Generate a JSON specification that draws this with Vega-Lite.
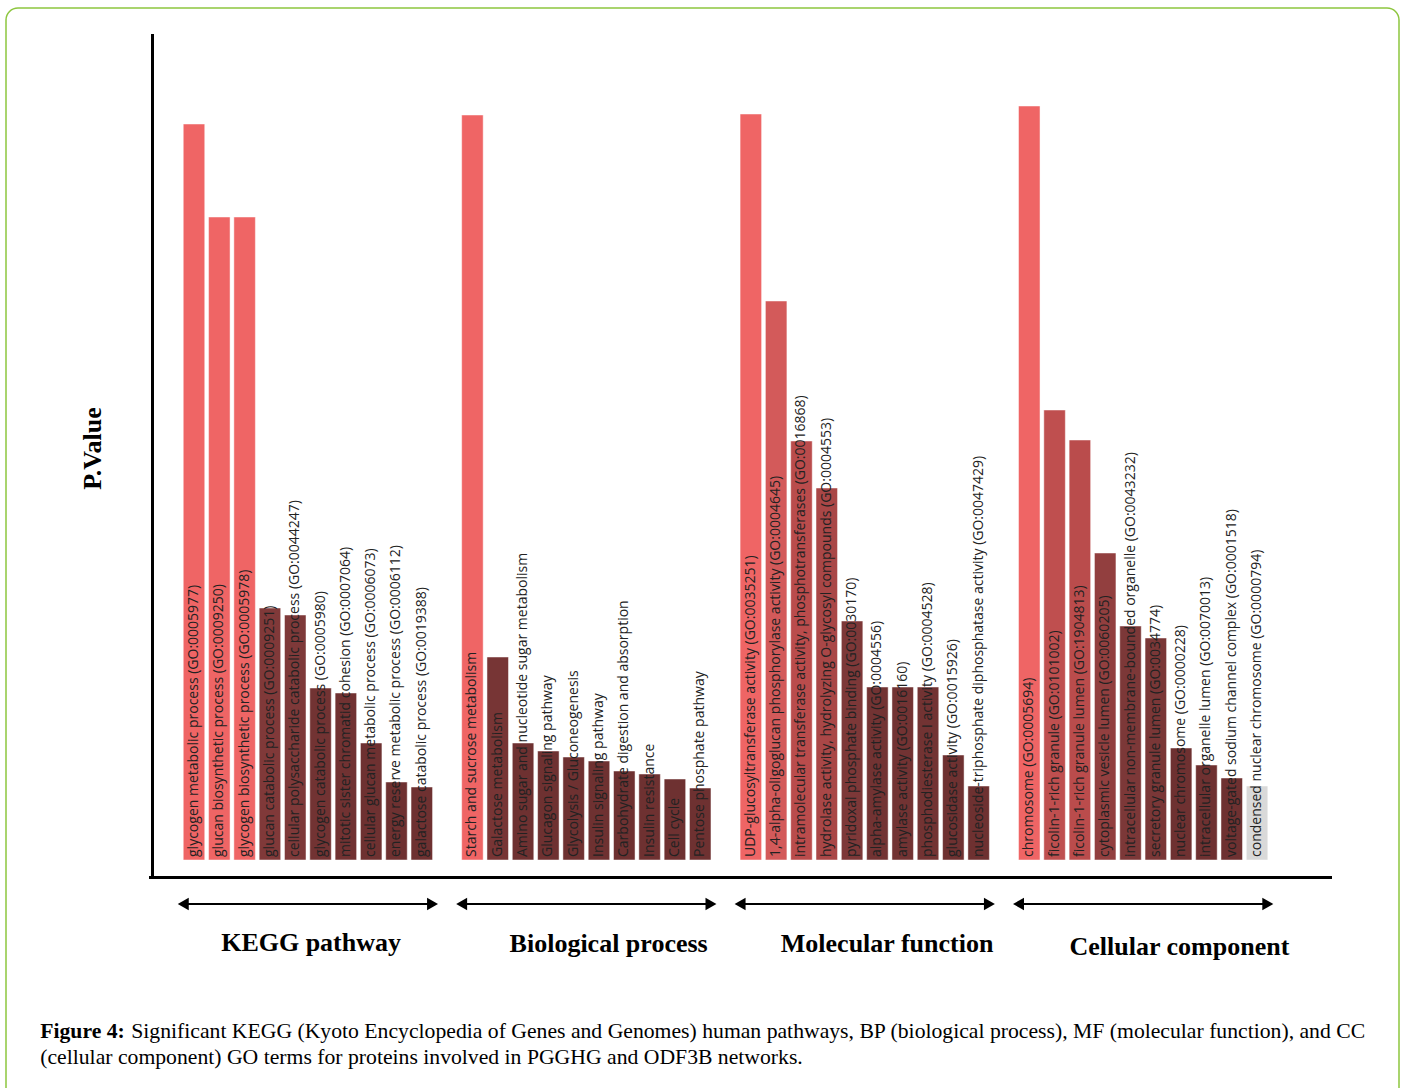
{
  "$schema": "https://vega.github.io/schema/vega-lite/v6.json",
  "width": 1393,
  "height": 1110,
  "padding": {"left": 6, "top": 8, "right": 6, "bottom": 0},
  "background": "white",
  "config": {
    "view": {"stroke": "#8DC63F", "strokeWidth": 1.5, "cornerRadius": 12}
  },
  "data": {
    "values": [
      {"group": "KEGG pathway", "term": "glycogen metabolic process (GO:0005977)", "value": 7.36},
      {"group": "KEGG pathway", "term": "glucan biosynthetic process (GO:0009250)", "value": 6.43},
      {"group": "KEGG pathway", "term": "glycogen biosynthetic process (GO:0005978)", "value": 6.43},
      {"group": "KEGG pathway", "term": "glucan catabolic process (GO:0009251)", "value": 2.52},
      {"group": "KEGG pathway", "term": "cellular polysaccharide catabolic process (GO:0044247)", "value": 2.45},
      {"group": "KEGG pathway", "term": "glycogen catabolic process (GO:0005980)", "value": 1.72},
      {"group": "KEGG pathway", "term": "mitotic sister chromatid cohesion (GO:0007064)", "value": 1.67},
      {"group": "KEGG pathway", "term": "cellular glucan metabolic process (GO:0006073)", "value": 1.17},
      {"group": "KEGG pathway", "term": "energy reserve metabolic process (GO:0006112)", "value": 0.78},
      {"group": "KEGG pathway", "term": "galactose catabolic process (GO:0019388)", "value": 0.73},
      {"group": "Biological process", "term": "Starch and sucrose metabolism", "value": 7.45},
      {"group": "Biological process", "term": "Galactose metabolism", "value": 2.03},
      {"group": "Biological process", "term": "Amino sugar and nucleotide sugar metabolism", "value": 1.17},
      {"group": "Biological process", "term": "Glucagon signaling pathway", "value": 1.09},
      {"group": "Biological process", "term": "Glycolysis / Gluconeogenesis", "value": 1.03},
      {"group": "Biological process", "term": "Insulin signaling pathway", "value": 0.99},
      {"group": "Biological process", "term": "Carbohydrate digestion and absorption", "value": 0.89},
      {"group": "Biological process", "term": "Insulin resistance", "value": 0.86},
      {"group": "Biological process", "term": "Cell cycle", "value": 0.81},
      {"group": "Biological process", "term": "Pentose phosphate pathway", "value": 0.72},
      {"group": "Molecular function", "term": "UDP-glucosyltransferase activity (GO:0035251)", "value": 7.46},
      {"group": "Molecular function", "term": "1,4-alpha-oligoglucan phosphorylase activity (GO:0004645)", "value": 5.59},
      {"group": "Molecular function", "term": "intramolecular transferase activity, phosphotransferases (GO:0016868)", "value": 4.19},
      {"group": "Molecular function", "term": "hydrolase activity, hydrolyzing O-glycosyl compounds (GO:0004553)", "value": 3.72},
      {"group": "Molecular function", "term": "pyridoxal phosphate binding (GO:0030170)", "value": 2.39},
      {"group": "Molecular function", "term": "alpha-amylase activity (GO:0004556)", "value": 1.73},
      {"group": "Molecular function", "term": "amylase activity (GO:0016160)", "value": 1.73},
      {"group": "Molecular function", "term": "phosphodiesterase I activity (GO:0004528)", "value": 1.73},
      {"group": "Molecular function", "term": "glucosidase activity (GO:0015926)", "value": 1.05},
      {"group": "Molecular function", "term": "nucleoside-triphosphate diphosphatase activity (GO:0047429)", "value": 0.74},
      {"group": "Cellular component", "term": "chromosome (GO:0005694)", "value": 7.54},
      {"group": "Cellular component", "term": "ficolin-1-rich granule (GO:0101002)", "value": 4.50},
      {"group": "Cellular component", "term": "ficolin-1-rich granule lumen (GO:1904813)", "value": 4.20},
      {"group": "Cellular component", "term": "cytoplasmic vesicle lumen (GO:0060205)", "value": 3.07},
      {"group": "Cellular component", "term": "intracellular non-membrane-bounded organelle (GO:0043232)", "value": 2.34},
      {"group": "Cellular component", "term": "secretory granule lumen (GO:0034774)", "value": 2.22},
      {"group": "Cellular component", "term": "nuclear chromosome (GO:0000228)", "value": 1.12},
      {"group": "Cellular component", "term": "intracellular organelle lumen (GO:0070013)", "value": 0.95},
      {"group": "Cellular component", "term": "voltage-gated sodium channel complex (GO:0001518)", "value": 0.82},
      {"group": "Cellular component", "term": "condensed nuclear chromosome (GO:0000794)", "value": 0.74}
    ]
  },
  "encoding": {
    "x": {
      "field": "term",
      "type": "nominal",
      "scale": {
        "domain": [
          "pad0",
          "glycogen metabolic process (GO:0005977)",
          "glucan biosynthetic process (GO:0009250)",
          "glycogen biosynthetic process (GO:0005978)",
          "glucan catabolic process (GO:0009251)",
          "cellular polysaccharide catabolic process (GO:0044247)",
          "glycogen catabolic process (GO:0005980)",
          "mitotic sister chromatid cohesion (GO:0007064)",
          "cellular glucan metabolic process (GO:0006073)",
          "energy reserve metabolic process (GO:0006112)",
          "galactose catabolic process (GO:0019388)",
          "gap1",
          "Starch and sucrose metabolism",
          "Galactose metabolism",
          "Amino sugar and nucleotide sugar metabolism",
          "Glucagon signaling pathway",
          "Glycolysis / Gluconeogenesis",
          "Insulin signaling pathway",
          "Carbohydrate digestion and absorption",
          "Insulin resistance",
          "Cell cycle",
          "Pentose phosphate pathway",
          "gap2",
          "UDP-glucosyltransferase activity (GO:0035251)",
          "1,4-alpha-oligoglucan phosphorylase activity (GO:0004645)",
          "intramolecular transferase activity, phosphotransferases (GO:0016868)",
          "hydrolase activity, hydrolyzing O-glycosyl compounds (GO:0004553)",
          "pyridoxal phosphate binding (GO:0030170)",
          "alpha-amylase activity (GO:0004556)",
          "amylase activity (GO:0016160)",
          "phosphodiesterase I activity (GO:0004528)",
          "glucosidase activity (GO:0015926)",
          "nucleoside-triphosphate diphosphatase activity (GO:0047429)",
          "gap3",
          "chromosome (GO:0005694)",
          "ficolin-1-rich granule (GO:0101002)",
          "ficolin-1-rich granule lumen (GO:1904813)",
          "cytoplasmic vesicle lumen (GO:0060205)",
          "intracellular non-membrane-bounded organelle (GO:0043232)",
          "secretory granule lumen (GO:0034774)",
          "nuclear chromosome (GO:0000228)",
          "intracellular organelle lumen (GO:0070013)",
          "voltage-gated sodium channel complex (GO:0001518)",
          "condensed nuclear chromosome (GO:0000794)",
          "pad1",
          "pad2"
        ],
        "range": [144, 1324],
        "paddingInner": 0.15,
        "paddingOuter": 0.385,
        "align": 0.407
      },
      "axis": {
        "labels": false,
        "ticks": false,
        "grid": false,
        "title": null,
        "domain": true,
        "domainColor": "#000000",
        "domainWidth": 3,
        "domainCap": "square",
        "offset": -241
      }
    }
  },
  "layer": [
    {
      "mark": {"type": "bar", "stroke": "#ffffff", "strokeWidth": 0.8, "strokeOpacity": 0.6},
      "encoding": {
        "y": {
          "field": "value",
          "type": "quantitative",
          "scale": {"domain": [-0.17, 8.25], "range": [869, 27], "nice": false, "zero": false},
          "axis": {
            "labels": false,
            "ticks": false,
            "grid": false,
            "domain": true,
            "domainColor": "#000000",
            "domainWidth": 3,
            "domainCap": "square",
            "offset": -146,
            "title": "P.Value",
            "titleFont": "Liberation Serif",
            "titleFontSize": 26,
            "titleFontWeight": "bold",
            "titleColor": "#000000",
            "titleAngle": 270,
            "titleX": -60,
            "titleY": 440,
            "titleAlign": "center",
            "titleBaseline": "middle"
          }
        },
        "y2": {"datum": 0},
        "color": {
          "condition": {"test": "datum.term === 'condensed nuclear chromosome (GO:0000794)'", "value": "#D9D9D9"},
          "field": "value",
          "type": "quantitative",
          "scale": {
            "domain": [1.5, 2.5, 4.2, 5.6, 6.4],
            "range": ["#6E3131", "#7F3939", "#BA4C4C", "#D35A5A", "#EF6565"],
            "clamp": true
          },
          "legend": null
        }
      }
    },
    {
      "mark": {"type": "text", "angle": 270, "align": "left", "baseline": "middle", "dx": 3, "font": "Open Sans", "fontSize": 14, "color": "#222222"},
      "encoding": {
        "x": {"field": "term", "type": "nominal", "bandPosition": 0.5},
        "y": {"datum": 0},
        "text": {"field": "term"}
      }
    },
    {
      "transform": [
        {"window": [{"op": "row_number", "as": "rn"}, {"op": "first_value", "field": "term", "as": "first"}, {"op": "last_value", "field": "term", "as": "last"}], "groupby": ["group"], "frame": [null, null]},
        {"filter": "datum.rn == 1"}
      ],
      "mark": {"type": "rule", "color": "#000000", "strokeWidth": 2},
      "encoding": {
        "x": {"field": "first", "type": "nominal", "bandPosition": 0},
        "x2": {"field": "last", "bandPosition": 1},
        "y": {"datum": -0.44}
      }
    },
    {
      "transform": [
        {"window": [{"op": "row_number", "as": "rn"}], "groupby": ["group"], "frame": [null, null]},
        {"filter": "datum.rn == 1"}
      ],
      "mark": {"type": "point", "shape": "triangle-left", "filled": true, "color": "#000000", "size": 160, "opacity": 1},
      "encoding": {
        "x": {"field": "term", "type": "nominal", "bandPosition": 0},
        "y": {"datum": -0.44}
      }
    },
    {
      "transform": [
        {"window": [{"op": "row_number", "as": "rn"}], "groupby": ["group"], "frame": [null, null]},
        {"filter": "datum.rn == 10"}
      ],
      "mark": {"type": "point", "shape": "triangle-right", "filled": true, "color": "#000000", "size": 160, "opacity": 1},
      "encoding": {
        "x": {"field": "term", "type": "nominal", "bandPosition": 1},
        "y": {"datum": -0.44}
      }
    },
    {
      "transform": [
        {"window": [{"op": "row_number", "as": "rn"}], "groupby": ["group"], "frame": [null, null]},
        {"filter": "datum.rn == 6 && datum.group == 'KEGG pathway'"}
      ],
      "mark": {"type": "text", "align": "center", "baseline": "middle", "font": "Liberation Serif", "fontSize": 26, "fontWeight": "bold", "color": "#000000"},
      "encoding": {
        "x": {"field": "term", "type": "nominal", "bandPosition": 0.06},
        "y": {"datum": -0.83},
        "text": {"field": "group"}
      }
    },
    {
      "transform": [
        {"window": [{"op": "row_number", "as": "rn"}], "groupby": ["group"], "frame": [null, null]},
        {"filter": "datum.rn == 6 && (datum.group == 'Biological process' || datum.group == 'Molecular function')"}
      ],
      "mark": {"type": "text", "align": "center", "baseline": "middle", "font": "Liberation Serif", "fontSize": 26, "fontWeight": "bold", "color": "#000000"},
      "encoding": {
        "x": {"field": "term", "type": "nominal", "bandPosition": 0.95},
        "y": {"datum": -0.84},
        "text": {"field": "group"}
      }
    },
    {
      "transform": [
        {"window": [{"op": "row_number", "as": "rn"}], "groupby": ["group"], "frame": [null, null]},
        {"filter": "datum.rn == 7 && datum.group == 'Cellular component'"}
      ],
      "mark": {"type": "text", "align": "center", "baseline": "middle", "font": "Liberation Serif", "fontSize": 26, "fontWeight": "bold", "color": "#000000"},
      "encoding": {
        "x": {"field": "term", "type": "nominal", "bandPosition": 0.42},
        "y": {"datum": -0.87},
        "text": {"field": "group"}
      }
    },
    {
      "data": {"values": [{}]},
      "mark": {"type": "text", "text": "Figure 4:", "align": "left", "baseline": "middle", "dx": -143, "font": "Liberation Serif", "fontSize": 21.7, "fontWeight": "bold", "color": "#000000"},
      "encoding": {
        "x": {"datum": "glycogen metabolic process (GO:0005977)", "bandPosition": 0},
        "y": {"datum": -1.71}
      }
    },
    {
      "data": {"values": [{}]},
      "mark": {"type": "text", "text": "Significant KEGG (Kyoto Encyclopedia of Genes and Genomes) human pathways, BP (biological process), MF (molecular function), and CC", "align": "left", "baseline": "middle", "dx": -52, "font": "Liberation Serif", "fontSize": 21.7, "color": "#000000"},
      "encoding": {
        "x": {"datum": "glycogen metabolic process (GO:0005977)", "bandPosition": 0},
        "y": {"datum": -1.71}
      }
    },
    {
      "data": {"values": [{}]},
      "mark": {"type": "text", "text": "(cellular component) GO terms for proteins involved in PGGHG and ODF3B networks.", "align": "left", "baseline": "middle", "dx": -143, "font": "Liberation Serif", "fontSize": 21.7, "color": "#000000"},
      "encoding": {
        "x": {"datum": "glycogen metabolic process (GO:0005977)", "bandPosition": 0},
        "y": {"datum": -1.97}
      }
    }
  ]
}
